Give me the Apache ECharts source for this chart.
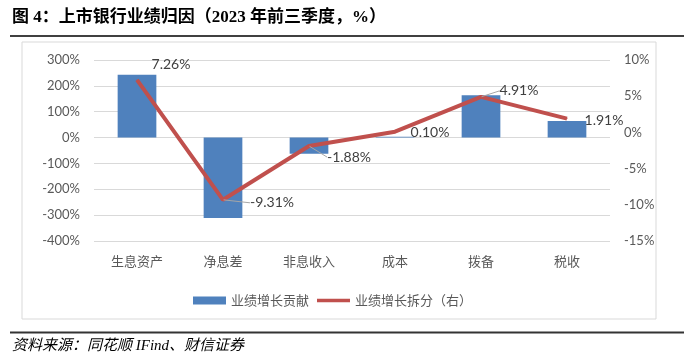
<!DOCTYPE html>
<html><head><meta charset="utf-8">
<script src="https://cdn.jsdelivr.net/npm/echarts@6/dist/echarts.min.js"></script>
<style>html,body{margin:0;padding:0;background:#fff}#c{width:690px;height:360px}</style>
</head><body><div id="c"></div>
<script>
const categories = ['生息资产','净息差','非息收入','成本','拨备','税收'];
const contribution = [243, -311, -63, 3, 164, 64];   // 业绩增长贡献 (left, %)
const breakdown = [7.26, -9.31, -1.88, 0.10, 4.91, 1.91]; // 业绩增长拆分 (right, %)
const leftTicks = [-400, 300, 100];
const rightTicks = [-15, 10, 5];
const seriesNames = ['业绩增长贡献', '业绩增长拆分（右）'];
const titleText = '图 4：上市银行业绩归因（2023 年前三季度，%）';
const sourceText = '资料来源：同花顺 IFind、财信证券';

const labelOffsets = [[34,-15,false],[49,3,true],[40,11,true],[35,1,false],[38,-6,true],[37,2,false]];

const chart = echarts.init(document.getElementById('c'), null, {renderer:'canvas'});
chart.setOption({
  animation: false,
  backgroundColor: '#fff',
  grid: {left: 94, right: 80, top: 60, bottom: 119},
  graphic: [
    {type:'rect', shape:{x:22, y:42, width:634, height:277}, style:{fill:'none', stroke:'#D9D9D9', lineWidth:1}},
    {type:'text', left: 12, top: 9, style:{text: titleText, font:'bold 17px "Liberation Serif","Noto Sans CJK SC"', fill:'#000'}},
    {type:'line', shape:{x1:10, y1:36, x2:684, y2:36}, style:{stroke:'#000', lineWidth:1.5}},
    {type:'line', shape:{x1:10, y1:332.5, x2:684, y2:332.5}, style:{stroke:'#333', lineWidth:2}},
    {type:'text', left: 12, top: 339, style:{text: sourceText, font:'italic 15px "Liberation Serif","Noto Sans CJK SC"', fill:'#000'}}
  ],
  legend: {
    left: 188, top: 289, itemGap: 8, itemWidth: 33, itemHeight: 8,
    textStyle: {color:'#595959', fontSize: 13, fontFamily: 'Noto Sans CJK SC'},
    data: [
      {name: seriesNames[0], icon: 'rect'},
      {name: seriesNames[1], icon: 'path://M0,0 H40 V4 H0 Z'}
    ]
  },
  xAxis: {
    type: 'category', data: categories,
    axisLine: {show: false}, axisTick: {show: false},
    axisLabel: {color:'#595959', fontSize: 13, fontFamily:'Noto Sans CJK SC', margin: 14}
  },
  yAxis: [
    {type:'value', min: leftTicks[0], max: leftTicks[1], interval: leftTicks[2],
     axisLine:{show:false}, axisTick:{show:false},
     axisLabel:{formatter:'{value}%', color:'#595959', fontSize: 13, fontFamily:'Lato', margin: 14},
     splitLine:{lineStyle:{color:'#D9D9D9', width:1}}},
    {type:'value', min: rightTicks[0], max: rightTicks[1], interval: rightTicks[2],
     axisLine:{show:false}, axisTick:{show:false},
     axisLabel:{formatter:'{value}%', color:'#595959', fontSize: 13, fontFamily:'Lato', margin: 14},
     splitLine:{show:false}}
  ],
  series: [
    {name: seriesNames[0], type:'bar', data: contribution, barWidth: '45%',
     itemStyle:{color:'#4F81BD'}, yAxisIndex: 0},
    {name: seriesNames[1], type:'line', yAxisIndex: 1, symbol:'circle', symbolSize: 1, showSymbol: true,
     lineStyle:{color:'#C0504D', width: 4}, itemStyle:{color:'#C0504D'},
     data: breakdown.map((v,i)=>({value: v, labelLine:{show: labelOffsets[i][2]}})),
     label:{show:true, position:'inside', formatter: p => Number(p.value).toFixed(2) + '%',
            color:'#404040', fontSize: 14, fontFamily:'Lato'},
     labelLine:{lineStyle:{color:'#A6A6A6', width:1}},
     labelLayout: p => ({dx: labelOffsets[p.dataIndex][0], dy: labelOffsets[p.dataIndex][1]})
    }
  ]
});
</script></body></html>
